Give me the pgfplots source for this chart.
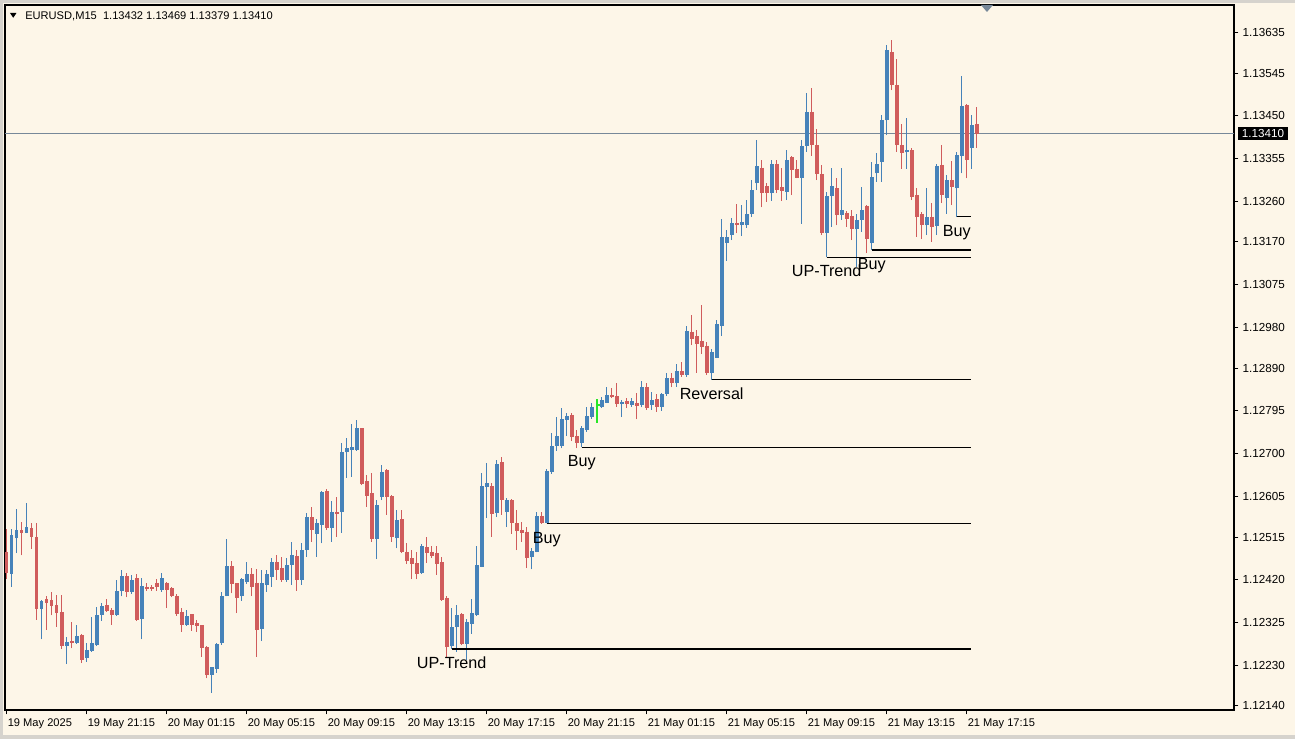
\documentclass[border=0pt]{standalone}
\usepackage{fontspec}
\setmainfont{Liberation Sans}
\usepackage{pgfplots}
\usepackage{pgfplotstable}
\pgfplotsset{compat=1.18}

\definecolor{chartbg}{RGB}{253,246,232}
\definecolor{bull}{RGB}{70,130,185}
\definecolor{bear}{RGB}{208,92,92}
\definecolor{bidline}{RGB}{119,136,153}
\definecolor{framegray}{RGB}{214,211,205}
\definecolor{signal}{RGB}{40,230,40}

\tikzset{lbl/.style={anchor=base, yshift=-4.9mm, inner sep=0pt,
    font=\fontsize{11.5}{13}\selectfont}}

% EURUSD M15 bars, index 0 = 19 May 17:15
\pgfplotstableread{
i o h l c
0 1.12482 1.12532 1.12421 1.12436
1 1.12434 1.12532 1.12405 1.12519
2 1.12512 1.12577 1.12479 1.12531
3 1.12531 1.12549 1.12474 1.12525
4 1.12525 1.12590 1.12523 1.12537
5 1.12534 1.12547 1.12488 1.12514
6 1.12514 1.12547 1.12331 1.12355
7 1.12355 1.12375 1.12288 1.12373
8 1.12377 1.12384 1.12309 1.12368
9 1.12375 1.12394 1.12341 1.12362
10 1.12364 1.12386 1.12316 1.12346
11 1.12348 1.12386 1.12266 1.12273
12 1.12273 1.12292 1.12233 1.12281
13 1.12284 1.12327 1.12268 1.12279
14 1.12280 1.12320 1.12278 1.12295
15 1.12298 1.12300 1.12235 1.12242
16 1.12246 1.12279 1.12238 1.12264
17 1.12263 1.12338 1.12260 1.12279
18 1.12275 1.12360 1.12274 1.12342
19 1.12342 1.12368 1.12329 1.12362
20 1.12364 1.12377 1.12349 1.12351
21 1.12353 1.12357 1.12320 1.12342
22 1.12342 1.12420 1.12340 1.12395
23 1.12395 1.12442 1.12383 1.12428
24 1.12428 1.12436 1.12381 1.12394
25 1.12394 1.12431 1.12389 1.12420
26 1.12423 1.12434 1.12329 1.12331
27 1.12333 1.12423 1.12288 1.12406
28 1.12405 1.12412 1.12396 1.12400
29 1.12403 1.12409 1.12396 1.12399
30 1.12414 1.12421 1.12396 1.12405
31 1.12397 1.12436 1.12394 1.12423
32 1.12414 1.12416 1.12357 1.12397
33 1.12401 1.12403 1.12381 1.12384
34 1.12384 1.12389 1.12340 1.12344
35 1.12349 1.12357 1.12305 1.12320
36 1.12320 1.12353 1.12318 1.12340
37 1.12343 1.12344 1.12307 1.12320
38 1.12324 1.12331 1.12305 1.12318
39 1.12319 1.12320 1.12249 1.12268
40 1.12270 1.12272 1.12201 1.12209
41 1.12209 1.12227 1.12169 1.12226
42 1.12223 1.12279 1.12214 1.12277
43 1.12279 1.12394 1.12276 1.12384
44 1.12384 1.12510 1.12383 1.12451
45 1.12451 1.12462 1.12390 1.12411
46 1.12412 1.12414 1.12346 1.12380
47 1.12383 1.12423 1.12374 1.12421
48 1.12416 1.12460 1.12411 1.12434
49 1.12434 1.12446 1.12384 1.12405
50 1.12414 1.12444 1.12249 1.12309
51 1.12311 1.12442 1.12284 1.12412
52 1.12409 1.12442 1.12394 1.12434
53 1.12427 1.12468 1.12405 1.12459
54 1.12459 1.12475 1.12420 1.12442
55 1.12446 1.12471 1.12416 1.12420
56 1.12420 1.12468 1.12416 1.12453
57 1.12453 1.12505 1.12409 1.12475
58 1.12473 1.12486 1.12396 1.12420
59 1.12420 1.12501 1.12409 1.12486
60 1.12486 1.12568 1.12471 1.12559
61 1.12559 1.12582 1.12505 1.12531
62 1.12522 1.12556 1.12471 1.12545
63 1.12542 1.12617 1.12501 1.12614
64 1.12617 1.12622 1.12531 1.12536
65 1.12536 1.12595 1.12505 1.12570
66 1.12570 1.12604 1.12516 1.12566
67 1.12570 1.12723 1.12525 1.12703
68 1.12703 1.12734 1.12647 1.12712
69 1.12708 1.12765 1.12649 1.12715
70 1.12708 1.12775 1.12706 1.12756
71 1.12756 1.12758 1.12630 1.12633
72 1.12639 1.12653 1.12582 1.12606
73 1.12612 1.12656 1.12505 1.12511
74 1.12511 1.12597 1.12466 1.12585
75 1.12604 1.12675 1.12597 1.12660
76 1.12664 1.12665 1.12564 1.12604
77 1.12606 1.12608 1.12505 1.12514
78 1.12512 1.12575 1.12490 1.12553
79 1.12554 1.12575 1.12479 1.12482
80 1.12482 1.12501 1.12455 1.12462
81 1.12468 1.12486 1.12421 1.12455
82 1.12457 1.12482 1.12421 1.12433
83 1.12436 1.12500 1.12433 1.12495
84 1.12492 1.12516 1.12457 1.12479
85 1.12481 1.12495 1.12468 1.12473
86 1.12479 1.12494 1.12431 1.12455
87 1.12459 1.12471 1.12374 1.12375
88 1.12380 1.12383 1.12249 1.12270
89 1.12272 1.12357 1.12266 1.12315
90 1.12315 1.12364 1.12260 1.12342
91 1.12344 1.12346 1.12275 1.12278
92 1.12278 1.12334 1.12242 1.12327
93 1.12322 1.12377 1.12300 1.12346
94 1.12342 1.12494 1.12340 1.12453
95 1.12449 1.12656 1.12448 1.12628
96 1.12627 1.12679 1.12557 1.12634
97 1.12628 1.12636 1.12516 1.12566
98 1.12569 1.12686 1.12559 1.12677
99 1.12681 1.12693 1.12564 1.12597
100 1.12571 1.12601 1.12537 1.12597
101 1.12597 1.12599 1.12522 1.12545
102 1.12545 1.12575 1.12486 1.12529
103 1.12531 1.12549 1.12505 1.12523
104 1.12527 1.12538 1.12446 1.12468
105 1.12470 1.12490 1.12443 1.12484
106 1.12482 1.12571 1.12481 1.12562
107 1.12562 1.12571 1.12544 1.12547
108 1.12547 1.12667 1.12545 1.12661
109 1.12660 1.12746 1.12655 1.12717
110 1.12717 1.12782 1.12707 1.12739
111 1.12717 1.12801 1.12712 1.12778
112 1.12775 1.12791 1.12739 1.12784
113 1.12786 1.12791 1.12728 1.12738
114 1.12739 1.12752 1.12712 1.12723
115 1.12723 1.12761 1.12714 1.12756
116 1.12752 1.12804 1.12749 1.12784
117 1.12782 1.12812 1.12778 1.12803
119 1.12803 1.12826 1.12801 1.12819
120 1.12813 1.12849 1.12812 1.12830
121 1.12830 1.12845 1.12823 1.12826
122 1.12828 1.12856 1.12804 1.12810
123 1.12810 1.12819 1.12781 1.12815
124 1.12817 1.12823 1.12801 1.12811
125 1.12808 1.12823 1.12804 1.12818
126 1.12813 1.12835 1.12776 1.12806
127 1.12808 1.12862 1.12803 1.12847
128 1.12847 1.12857 1.12797 1.12801
129 1.12808 1.12837 1.12798 1.12819
130 1.12821 1.12832 1.12793 1.12803
131 1.12804 1.12835 1.12795 1.12832
132 1.12832 1.12880 1.12828 1.12867
133 1.12869 1.12878 1.12847 1.12856
134 1.12856 1.12900 1.12849 1.12883
135 1.12883 1.12904 1.12871 1.12875
136 1.12875 1.12983 1.12871 1.12972
137 1.12971 1.13008 1.12941 1.12954
138 1.12961 1.12974 1.12880 1.12943
139 1.12951 1.13030 1.12921 1.12937
140 1.12940 1.12948 1.12875 1.12878
141 1.12878 1.12932 1.12864 1.12925
142 1.12913 1.12997 1.12912 1.12987
143 1.12983 1.13222 1.12961 1.13180
144 1.13168 1.13196 1.13128 1.13180
145 1.13185 1.13224 1.13174 1.13212
146 1.13212 1.13254 1.13189 1.13207
147 1.13207 1.13252 1.13183 1.13214
148 1.13207 1.13263 1.13202 1.13232
149 1.13232 1.13307 1.13225 1.13285
150 1.13300 1.13396 1.13285 1.13338
151 1.13335 1.13352 1.13247 1.13278
152 1.13294 1.13300 1.13259 1.13278
153 1.13278 1.13352 1.13261 1.13344
154 1.13344 1.13352 1.13278 1.13285
155 1.13291 1.13335 1.13261 1.13284
156 1.13281 1.13374 1.13263 1.13352
157 1.13358 1.13361 1.13274 1.13329
158 1.13333 1.13352 1.13311 1.13313
159 1.13313 1.13396 1.13210 1.13383
160 1.13383 1.13500 1.13370 1.13459
161 1.13459 1.13511 1.13361 1.13385
162 1.13385 1.13420 1.13307 1.13321
163 1.13321 1.13341 1.13185 1.13190
164 1.13190 1.13281 1.13136 1.13272
165 1.13272 1.13335 1.13204 1.13294
166 1.13289 1.13311 1.13207 1.13230
167 1.13230 1.13335 1.13219 1.13241
168 1.13235 1.13239 1.13204 1.13220
169 1.13227 1.13242 1.13174 1.13198
170 1.13198 1.13233 1.13115 1.13219
171 1.13219 1.13291 1.13193 1.13241
172 1.13250 1.13252 1.13145 1.13176
173 1.13167 1.13348 1.13152 1.13315
174 1.13322 1.13367 1.13304 1.13344
175 1.13348 1.13451 1.13304 1.13440
176 1.13440 1.13607 1.13407 1.13596
177 1.13591 1.13618 1.13507 1.13518
178 1.13518 1.13577 1.13370 1.13385
179 1.13385 1.13431 1.13333 1.13367
180 1.13369 1.13446 1.13333 1.13374
181 1.13374 1.13378 1.13263 1.13270
182 1.13274 1.13289 1.13181 1.13226
183 1.13233 1.13237 1.13176 1.13207
184 1.13207 1.13289 1.13185 1.13226
185 1.13226 1.13256 1.13170 1.13204
186 1.13206 1.13344 1.13185 1.13339
187 1.13341 1.13386 1.13256 1.13274
188 1.13267 1.13318 1.13233 1.13307
189 1.13307 1.13349 1.13252 1.13292
190 1.13289 1.13370 1.13226 1.13363
191 1.13361 1.13539 1.13322 1.13472
192 1.13474 1.13477 1.13311 1.13352
193 1.13378 1.13451 1.13333 1.13429
194 1.13432 1.13469 1.13379 1.13410
}\bars

% the one bar painted lime by the indicator
\pgfplotstableread{
i o h l c
118 1.12803 1.12821 1.12769 1.12808
}\greenbar

\begin{document}
\begin{tikzpicture}
% window background, 1 px = 0.25 mm, y downwards
\begin{scope}[x=0.25mm, y=-0.25mm, yshift=184.75mm]
  \fill[chartbg] (0,0) rectangle (1295,739);
  \fill[framegray] (0,0) rectangle (1295,3);
  \fill[framegray] (0,0) rectangle (3,739);
  \fill[framegray] (0,735) rectangle (1295,739);
\end{scope}

\begin{axis}[
  at={(1.25mm,7.25mm)}, anchor=south west,
  scale only axis, width=307.25mm, height=176.25mm,
  xmin=-0.34, xmax=245.46,
  ymin=1.12131, ymax=1.13696,
  clip mode=individual,
  axis line style={black, line width=0.28mm},
  tick align=outside,
  major tick length=1.1mm,
  tick style={black, line width=0.25mm},
  xtick pos=bottom, ytick pos=right, yticklabel pos=right,
  xtick={0,16,32,48,64,80,96,112,128,144,160,176,192},
  xticklabels={19 May 2025, 19 May 21:15, 20 May 01:15, 20 May 05:15,
    20 May 09:15, 20 May 13:15, 20 May 17:15, 20 May 21:15,
    21 May 01:15, 21 May 05:15, 21 May 09:15, 21 May 13:15, 21 May 17:15},
  ytick={1.1214,1.1223,1.12325,1.1242,1.12515,1.12605,1.127,1.12795,1.1289,
    1.1298,1.13075,1.1317,1.1326,1.13355,1.1345,1.13545,1.13635},
  yticklabels={1.12140,1.12230,1.12325,1.12420,1.12515,1.12605,1.12700,1.12795,
    1.12890,1.12980,1.13075,1.13170,1.13260,1.13355,1.13450,1.13545,1.13635},
  ticklabel style={inner sep=0pt},
  xticklabel style={anchor=north west, yshift=-1.1mm, xshift=0.2mm,
    font=\fontsize{7.9}{9}\selectfont},
  yticklabel style={anchor=west, xshift=1mm,
    font=\fontsize{8.3}{9}\selectfont},
]

% bid line
\addplot [bidline, line width=0.25mm] coordinates {(-0.34,1.13410) (245.46,1.13410)};

% wicks
\addplot [bull, line width=0.28mm, quiver={u=0, v=\thisrow{h}-\thisrow{l}},
  restrict expr to domain={\thisrow{c}-\thisrow{o}}{0:1}]
  table [x=i, y=l] {\bars};
\addplot [bear, line width=0.28mm, quiver={u=0, v=\thisrow{h}-\thisrow{l}},
  restrict expr to domain={\thisrow{o}-\thisrow{c}}{0:1}]
  table [x=i, y=l] {\bars};
% bodies
\addplot [bull, line width=0.9mm, quiver={u=0, v=\thisrow{c}-\thisrow{o}},
  restrict expr to domain={\thisrow{c}-\thisrow{o}}{0:1}]
  table [x=i, y=o] {\bars};
\addplot [bear, line width=0.9mm, quiver={u=0, v=\thisrow{c}-\thisrow{o}},
  restrict expr to domain={\thisrow{o}-\thisrow{c}}{0:1}]
  table [x=i, y=o] {\bars};
% lime bar
\addplot [signal, line width=0.45mm, quiver={u=0, v=\thisrow{h}-\thisrow{l}}]
  table [x=i, y=l] {\greenbar};
\addplot [signal, line width=0.3mm, quiver={u=0.6, v=0}]
  table [x=i, y=c] {\greenbar};

% signal levels
\addplot [black, line width=0.35mm] coordinates {(89,1.12266) (192.9,1.12266)};
\addplot [black, line width=0.35mm] coordinates {(108,1.12545) (192.9,1.12545)};
\addplot [black, line width=0.35mm] coordinates {(115,1.12714) (192.9,1.12714)};
\addplot [black, line width=0.35mm] coordinates {(141,1.12864) (192.9,1.12864)};
\addplot [black, line width=0.35mm] coordinates {(164,1.13136) (192.9,1.13136)};
\addplot [black, line width=0.35mm] coordinates {(173,1.13152) (192.9,1.13152)};
\addplot [black, line width=0.35mm] coordinates {(190,1.13226) (192.9,1.13226)};

\node[lbl] at (axis cs:89,1.12266) {UP-Trend};
\node[lbl] at (axis cs:108,1.12545) {Buy};
\node[lbl] at (axis cs:115,1.12714) {Buy};
\node[lbl] at (axis cs:141,1.12864) {Reversal};
\node[lbl] at (axis cs:164,1.13136) {UP-Trend};
\node[lbl] at (axis cs:173,1.13152) {Buy};
\node[lbl] at (axis cs:190,1.13226) {Buy};

% bid price tag on the price scale
\node[anchor=west, xshift=1mm, fill=black, text=white, inner xsep=0.9mm,
  inner ysep=0pt, minimum height=3.2mm, font=\fontsize{8.3}{9}\selectfont]
  at (axis cs:245.46,1.13410) {1.13410};
\end{axis}

% header and chart-shift marker
\begin{scope}[x=0.25mm, y=-0.25mm, yshift=184.75mm]
  \fill[black] (10,13) -- (16.5,13) -- (13.2,17.8) -- cycle;
  \node[anchor=base west, inner sep=0pt, font=\fontsize{7.9}{9}\selectfont]
    at (25,20) {EURUSD,M15\ \ 1.13432 1.13469 1.13379 1.13410};
  \fill[bidline] (981,5) -- (993,5) -- (987,12) -- cycle;
\end{scope}

\pgfresetboundingbox
\path (0,0) rectangle (323.75mm,184.75mm);
\end{tikzpicture}
\end{document}
